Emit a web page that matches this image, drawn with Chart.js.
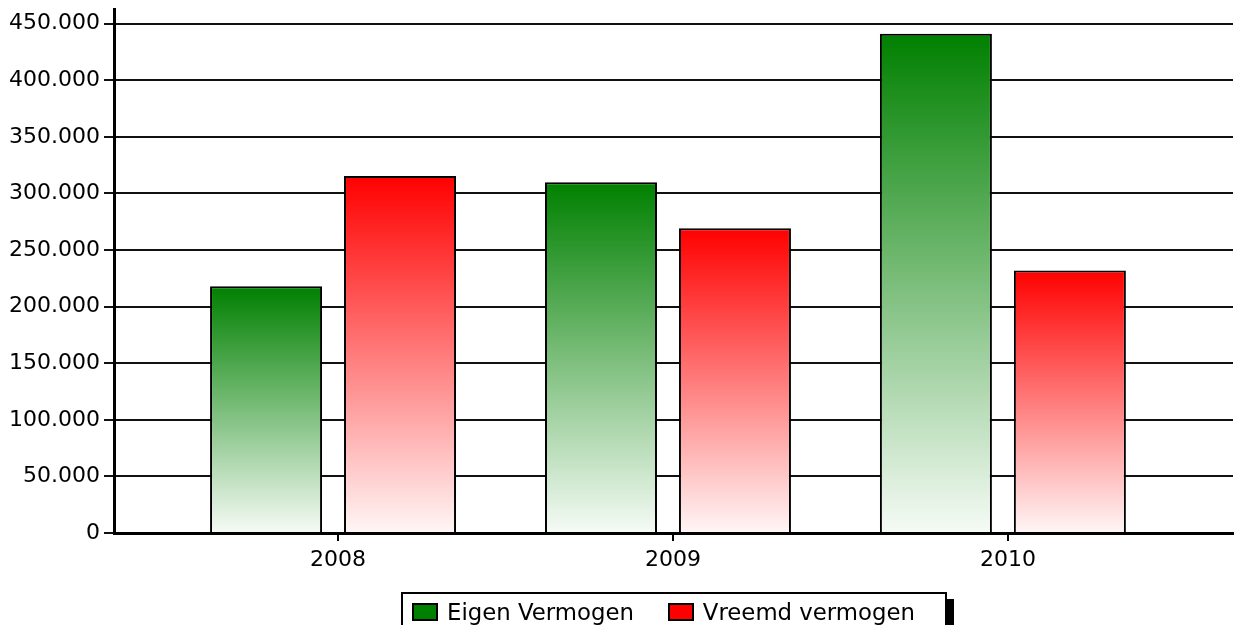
<!DOCTYPE html>
<html>
<head>
<meta charset="utf-8">
<script src="https://cdn.jsdelivr.net/npm/chart.js@4/dist/chart.umd.min.js"></script>
<style>
  html, body { margin: 0; padding: 0; background: #fff; overflow: hidden; }
  #wrap { position: relative; width: 1239px; height: 625px; }
  #chartBox { position: absolute; left: 0; top: 0; width: 1239px; height: 625px; }
  #legend {
    position: absolute; left: 401px; top: 592px; width: 546px; height: 40px;
    border: 2px solid #000; background: #fff; box-shadow: 7px 7px 0 #000;
    display: flex; align-items: flex-start; padding-left: 9px; padding-top: 6px; box-sizing: border-box;
    font-family: 'DejaVu Sans', Verdana, sans-serif; font-size: 22.8px; color: #000;
  }
  .item { display: flex; align-items: center; margin-right: 34px; white-space: nowrap; line-height: 24px; }
  .sw { width: 26px; height: 18px; border: 2px solid #000; box-sizing: border-box; margin-right: 9px; }
</style>
</head>
<body>
<div id="wrap">
  <div id="chartBox"><canvas id="c"></canvas></div>
  <div id="legend"></div>
</div>
<script>
// ---- data ----
const categories = ['2008', '2009', '2010'];
const eigenVermogen = [218000, 310000, 441200];
const vreemdVermogen = [315400, 269300, 232000];
const seriesNames = ['Eigen Vermogen', 'Vreemd vermogen'];
const yTickValues = [0, 50000, 100000, 150000, 200000, 250000, 300000, 350000, 400000, 450000];

function fmt(v) {
  return String(v).replace(/\B(?=(\d{3})+(?!\d))/g, '.');
}

function gradientFill(topColor, bottomColor) {
  return function (ctx) {
    if (ctx.type !== 'data') return topColor;
    const chart = ctx.chart;
    const y = chart.scales && chart.scales.y;
    if (!y || !chart.chartArea || !ctx.parsed) return topColor;
    const yTop = y.getPixelForValue(ctx.parsed.y);
    const yBot = y.getPixelForValue(0);
    if (!isFinite(yTop) || !isFinite(yBot) || yTop === yBot) return topColor;
    const g = chart.ctx.createLinearGradient(0, yTop, 0, yBot);
    g.addColorStop(0, topColor);
    g.addColorStop(1, bottomColor);
    return g;
  };
}

const FONT = { family: "'DejaVu Sans', Verdana, sans-serif", size: 22 };
const TICK_SHIFT = 0.015; // x tick marks sit slightly right of the bar-group centres

const chart = new Chart(document.getElementById('c'), {
  type: 'bar',
  data: {
    datasets: [
      {
        label: seriesNames[0],
        data: categories.map((c, i) => ({ x: Number(c), y: eigenVermogen[i] })),
        backgroundColor: gradientFill('#008000', '#f6fbf6'),
        legendColor: '#008000',
        borderColor: '#000',
        borderWidth: 2,
        categoryPercentage: 0.8,
        barPercentage: 0.836
      },
      {
        label: seriesNames[1],
        data: categories.map((c, i) => ({ x: Number(c), y: vreemdVermogen[i] })),
        backgroundColor: gradientFill('#ff0000', '#fff6f6'),
        legendColor: '#ff0000',
        borderColor: '#000',
        borderWidth: 2,
        categoryPercentage: 0.8,
        barPercentage: 0.836
      }
    ]
  },
  options: {
    responsive: true,
    maintainAspectRatio: false,
    animation: false,
    layout: { padding: { top: 9, right: 6, bottom: 0, left: 0 } },
    plugins: { legend: { display: false }, tooltip: { enabled: false } },
    scales: {
      x: {
        type: 'linear',
        min: 2007.346,
        max: 2010.687,
        offset: false,
        afterBuildTicks: (s) => { s.ticks = categories.map(c => ({ value: Number(c) + TICK_SHIFT })); },
        afterFit: (s) => { s.height = 92; s.paddingLeft = 0; s.paddingRight = 0; },
        ticks: {
          color: '#000', font: FONT, padding: 6, autoSkip: false, maxRotation: 0,
          callback: (v, i) => categories[i]
        },
        grid: { display: true, drawOnChartArea: false, drawTicks: true, tickLength: 8, lineWidth: 2, color: '#000', offset: false },
        border: { display: true, color: '#000', width: 3 }
      },
      y: {
        min: 0,
        max: 463000,
        afterBuildTicks: (s) => { s.ticks = yTickValues.map(v => ({ value: v })); },
        afterFit: (s) => { s.width = 114; s.paddingTop = 0; s.paddingBottom = 0; },
        ticks: { color: '#000', font: FONT, padding: 4, callback: (v) => fmt(v) },
        grid: { display: true, drawOnChartArea: true, drawTicks: true, tickLength: 10, lineWidth: 2, color: '#111' },
        border: { display: true, color: '#000', width: 3 }
      }
    }
  }
});

// HTML legend built from the chart's datasets
const legendEl = document.getElementById('legend');
chart.data.datasets.forEach(ds => {
  const item = document.createElement('div');
  item.className = 'item';
  const sw = document.createElement('span');
  sw.className = 'sw';
  sw.style.background = ds.legendColor;
  const tx = document.createElement('span');
  tx.textContent = ds.label;
  item.appendChild(sw);
  item.appendChild(tx);
  legendEl.appendChild(item);
});
</script>
</body>
</html>
